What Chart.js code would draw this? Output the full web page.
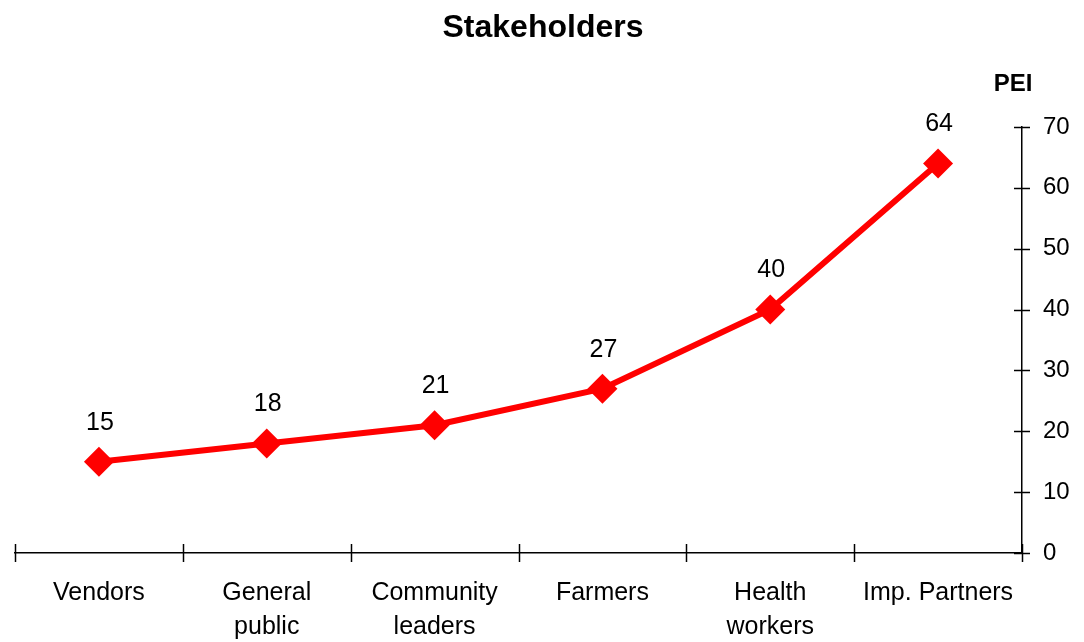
<!DOCTYPE html>
<html>
<head>
<meta charset="utf-8">
<script src="https://cdn.jsdelivr.net/npm/chart.js@4"></script>
<style>
  body { margin: 0; background: #fff; }
  #wrap { width: 1084px; height: 642px; }
</style>
</head>
<body>
<div id="wrap"><canvas id="chart" width="1084" height="642"></canvas></div>
<script>
// chart data
const categories = [
    ['Vendors'],
    ['General', 'public'],
    ['Community', 'leaders'],
    ['Farmers'],
    ['Health', 'workers'],
    ['Imp. Partners']
];
const peiValues = [15, 18, 21, 27, 40, 64];
const yTicks = [0, 10, 20, 30, 40, 50, 60, 70];

const FONT = '"Liberation Sans", Arial, sans-serif';

// draws the title, the PEI label, the value labels and the crossing tick marks
const decorations = {
    id: 'decorations',
    afterDatasetsDraw(chart) {
        const ctx = chart.ctx;
        const meta = chart.getDatasetMeta(0);
        ctx.save();
        ctx.fillStyle = '#000';
        ctx.font = '25px ' + FONT;
        ctx.textAlign = 'center';
        ctx.textBaseline = 'middle';
        meta.data.forEach((pt, i) => {
            ctx.fillText(String(peiValues[i]), pt.x + 1, pt.y - 39);
        });
        ctx.restore();
    },
    afterDraw(chart) {
        const ctx = chart.ctx;
        const x = chart.scales.x;
        const y = chart.scales.y;
        ctx.save();
        ctx.strokeStyle = '#000';
        ctx.lineWidth = 1.5;

        // y tick marks across the axis line
        const axisX = y.left;
        yTicks.forEach(v => {
            const py = Math.round(y.getPixelForValue(v)) + 0.5;
            ctx.beginPath();
            ctx.moveTo(axisX - 8, py);
            ctx.lineTo(axisX + 8, py);
            ctx.stroke();
        });

        // x tick marks at the category boundaries
        const axisY = x.top;
        const band = (x.right - x.left) / categories.length;
        for (let k = 0; k <= categories.length; k++) {
            const px = Math.round(x.left + k * band) + 0.5;
            ctx.beginPath();
            ctx.moveTo(px, axisY - 9);
            ctx.lineTo(px, axisY + 9);
            ctx.stroke();
        }

        // title and axis label
        ctx.fillStyle = '#000';
        ctx.textAlign = 'center';
        ctx.textBaseline = 'alphabetic';
        ctx.font = 'bold 32px ' + FONT;
        ctx.fillText('Stakeholders', chart.width / 2 + 1, 37);
        ctx.font = 'bold 24px ' + FONT;
        ctx.fillText('PEI', axisX - 9, 91);
        ctx.restore();
    }
};

new Chart(document.getElementById('chart'), {
    type: 'line',
    data: {
        labels: categories,
        datasets: [{
            label: 'PEI',
            data: peiValues,
            borderColor: '#ff0000',
            backgroundColor: '#ff0000',
            borderWidth: 6,
            pointStyle: 'rectRot',
            pointRadius: 15,
            pointBorderWidth: 0,
            tension: 0
        }]
    },
    options: {
        responsive: false,
        animation: false,
        devicePixelRatio: 1,
        layout: { padding: { left: 14, top: 127, right: 0, bottom: 0 } },
        plugins: {
            legend: { display: false },
            title: { display: false },
            tooltip: { enabled: false }
        },
        scales: {
            x: {
                offset: true,
                grid: { display: true, drawOnChartArea: false, drawTicks: false },
                border: { display: true, color: '#000', width: 1.5 },
                ticks: {
                    color: '#000',
                    font: { family: FONT, size: 25, lineHeight: 1.36 },
                    padding: 23,
                    maxRotation: 0,
                    autoSkip: false
                },
                afterFit(scale) { scale.height = 89; }
            },
            y: {
                position: 'right',
                min: 0,
                max: 70,
                grid: { display: true, drawOnChartArea: false, drawTicks: false },
                border: { display: true, color: '#000', width: 1.5 },
                ticks: {
                    stepSize: 10,
                    color: '#000',
                    font: { family: FONT, size: 24 },
                    padding: 21
                },
                afterFit(scale) { scale.width = 62; }
            }
        }
    },
    plugins: [decorations]
});
</script>
</body>
</html>
